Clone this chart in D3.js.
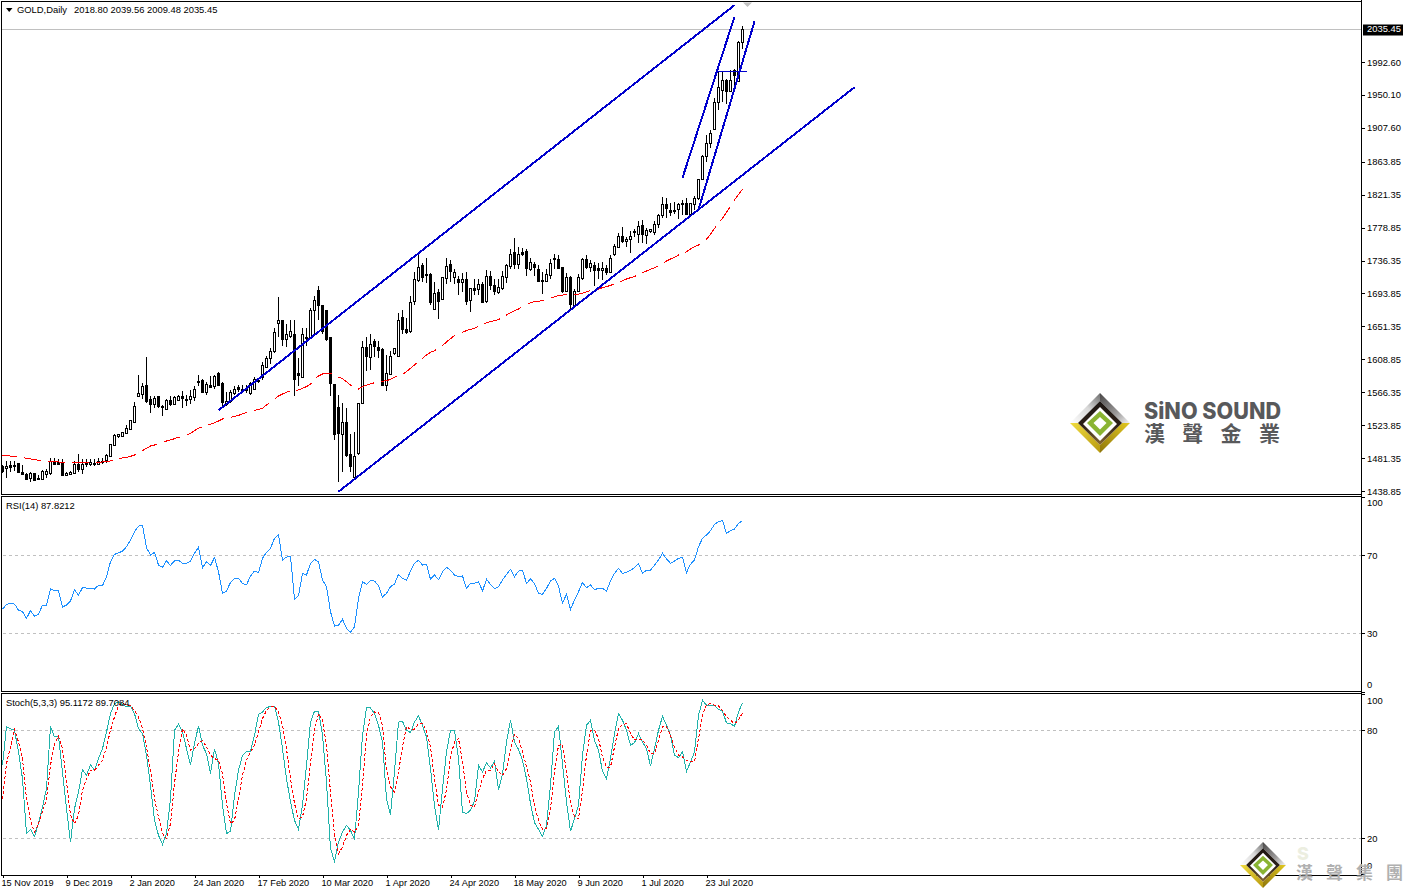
<!DOCTYPE html>
<html lang="en">
<head>
  <meta charset="UTF-8">
  <title>GOLD Daily</title>
  <script src="https://d3js.org/d3.v7.min.js"></script>
  <style>
    html, body { margin: 0; padding: 0; background: #fff; }
    svg { display: block; }
    text { font-family: 'Liberation Sans', Arial, sans-serif; font-size: 9.4px; fill: #000; }
    .tick line { stroke: #000; shape-rendering: crispEdges; }
    .tick text { font-family: 'Liberation Sans', Arial, sans-serif; font-size: 9.4px; }
    .date-axis .tick text { font-size: 9.2px; }
    .aliased { shape-rendering: crispEdges; }
  </style>
</head>
<body>
  <svg id="chart" width="1405" height="892"></svg>
  <script>
    // tick labels
    const dates = ["15 Nov 2019","9 Dec 2019","2 Jan 2020","24 Jan 2020","17 Feb 2020","10 Mar 2020","1 Apr 2020","24 Apr 2020","18 May 2020","9 Jun 2020","1 Jul 2020","23 Jul 2020"];
    const dateBars = [0,16,32,48,64,80,96,112,128,144,160,176];
    const priceTicks = [1992.60,1950.10,1907.60,1863.85,1821.35,1778.85,1736.35,1693.85,1651.35,1608.85,1566.35,1523.85,1481.35,1438.85];
    const rsiTicks = [100,70,30,0];
    const rsiLevels = [70,30];
    const stochTicks = [100,80,20,0];
    const stochLevels = [80,20];
    const lastClose = 2035.45;

    // daily candles
    const opens = [
      1471,1468,1472,1471,1475,1464,1461,1455,1462,1456,
      1455,1461,1461,1476,1476,1475,1459,1461,1463,1474,
      1467,1474,1474,1475,1474,1477,1478,1484,1498,1510,
      1510,1514,1518,1528,1561,1564,1576,1557,1551,1561,
      1549,1545,1556,1551,1556,1561,1557,1558,1561,1581,
      1582,1567,1576,1574,1591,1578,1551,1554,1566,1573,
      1570,1571,1565,1570,1581,1586,1600,1610,1619,1656,
      1660,1635,1638,1642,1591,1586,1638,1638,1672,1698,
      1679,1672,1637,1577,1547,1512,1528,1486,1457,1488,
      1553,1625,1612,1632,1625,1622,1575,1590,1616,1614,
      1663,1648,1646,1685,1711,1731,1719,1719,1674,1696,
      1686,1713,1732,1715,1712,1708,1713,1685,1701,1700,
      1706,1684,1716,1705,1696,1700,1716,1729,1747,1732,
      1747,1748,1726,1732,1726,1711,1710,1718,1738,1738,
      1728,1697,1715,1678,1697,1713,1738,1728,1731,1727,
      1725,1727,1722,1745,1754,1768,1761,1764,1773,1771,
      1782,1769,1774,1774,1783,1795,1809,1802,1801,1802,
      1809,1810,1796,1809,1817,1841,1871,1888,1906,1941,
      1957,1970,1956,1982,1969,2018.80];
    const highs = [
      1472,1477,1477,1478,1475,1472,1462,1463,1462,1459,
      1466,1467,1482,1481,1480,1480,1464,1465,1478,1487,
      1480,1480,1480,1480,1481,1481,1487,1500,1512,1513,
      1515,1524,1531,1554,1589,1578,1612,1561,1561,1561,
      1550,1557,1561,1561,1563,1568,1563,1569,1574,1589,
      1583,1580,1587,1589,1593,1580,1567,1569,1574,1576,
      1576,1576,1580,1586,1584,1606,1613,1624,1649,1689,
      1660,1655,1660,1660,1610,1649,1649,1675,1690,1703,
      1679,1672,1638,1577,1563,1553,1546,1513,1515,1553,
      1632,1637,1642,1635,1632,1623,1614,1620,1623,1669,
      1672,1662,1691,1722,1746,1733,1739,1720,1708,1699,
      1715,1739,1737,1726,1716,1720,1721,1701,1712,1712,
      1709,1724,1723,1712,1712,1723,1732,1751,1765,1754,
      1753,1751,1739,1735,1731,1722,1726,1738,1745,1744,
      1728,1720,1716,1699,1719,1739,1743,1737,1734,1733,
      1734,1731,1743,1758,1772,1779,1767,1774,1777,1787,
      1789,1778,1777,1787,1797,1818,1817,1811,1812,1811,
      1814,1817,1811,1820,1842,1873,1898,1905,1946,1980,
      1980,1971,1982,1984,2020,2039.56];
    const lows = [
      1462,1456,1464,1465,1462,1462,1453,1450,1452,1453,
      1453,1455,1460,1472,1472,1458,1458,1460,1463,1464,
      1461,1470,1471,1471,1472,1474,1475,1483,1497,1507,
      1508,1513,1517,1527,1560,1558,1553,1540,1546,1546,
      1536,1544,1548,1550,1555,1546,1548,1551,1555,1574,
      1565,1563,1573,1571,1574,1549,1548,1552,1563,1566,
      1565,1565,1563,1569,1578,1582,1599,1603,1617,1638,
      1626,1625,1636,1562,1574,1586,1626,1637,1642,1660,
      1642,1633,1561,1505,1451,1464,1483,1464,1454,1485,
      1553,1594,1595,1612,1610,1574,1568,1589,1614,1612,
      1642,1642,1643,1679,1708,1708,1707,1679,1672,1661,
      1685,1706,1709,1706,1692,1696,1679,1670,1692,1692,
      1681,1682,1698,1692,1693,1698,1707,1726,1726,1725,
      1742,1716,1723,1716,1708,1693,1709,1712,1726,1725,
      1695,1696,1673,1676,1696,1711,1726,1721,1703,1713,
      1711,1718,1720,1742,1753,1759,1754,1746,1767,1759,
      1759,1758,1772,1769,1778,1791,1791,1794,1797,1790,
      1795,1795,1795,1802,1814,1840,1863,1881,1905,1931,
      1941,1938,1954,1962,1967,2009.48];
    const closes = [
      1464,1471,1470,1472,1464,1462,1455,1462,1453,1456,
      1465,1465,1477,1474,1474,1460,1462,1464,1474,1468,
      1474,1475,1476,1475,1478,1478,1485,1500,1511,1512,
      1515,1520,1530,1549,1565,1574,1555,1551,1559,1548,
      1548,1556,1551,1560,1561,1558,1557,1562,1571,1580,
      1567,1577,1574,1587,1576,1553,1555,1566,1571,1571,
      1571,1570,1578,1583,1582,1602,1611,1619,1644,1660,
      1635,1641,1645,1584,1589,1641,1637,1673,1685,1679,
      1646,1634,1577,1513,1513,1528,1485,1471,1484,1553,
      1625,1614,1629,1625,1621,1576,1591,1613,1623,1660,
      1647,1644,1683,1713,1728,1716,1718,1683,1695,1685,
      1715,1729,1723,1722,1708,1712,1685,1701,1699,1706,
      1683,1716,1705,1697,1702,1716,1731,1745,1732,1745,
      1745,1726,1735,1728,1710,1710,1719,1733,1739,1726,
      1697,1715,1680,1697,1715,1738,1728,1733,1725,1725,
      1727,1722,1740,1755,1768,1761,1764,1768,1774,1781,
      1770,1776,1777,1784,1795,1809,1804,1799,1802,1809,
      1810,1796,1810,1817,1841,1871,1888,1901,1941,1960,
      1970,1956,1970,1976,2019,2035.45];

    // moving average (red dashes)
    const maValues = [
      1485.3,1484.9,1484,1483.6,1482.3,1481.9,1481,1480.2,1479.3,1478.5,
      1477.6,1477.2,1476.7,1476.3,1476.3,1475.9,1475.5,1475,1475,1475,
      1475,1475,1475,1475.5,1475.9,1476.3,1476.7,1477.6,1478.9,1480.6,
      1481.5,1482.3,1483.6,1485.3,1487.5,1491,1494,1497,1498.2,1500,
      1502,1503.4,1504.7,1506.4,1508.2,1509.4,1511.2,1512.9,1516.8,1519.8,
      1521.5,1523.2,1525,1527,1529.2,1531.8,1532.2,1534,1535.3,1536.5,
      1538.3,1540.4,1541.7,1543,1544.3,1545.6,1549.9,1552.9,1557.2,1561.5,
      1564.1,1566.2,1568.4,1568.8,1569.3,1571.4,1573.6,1576.6,1583,1587.3,
      1589.9,1590.8,1590.8,1588.6,1585.6,1583.9,1580,1575.7,1571.4,1570.5,
      1573.6,1575.3,1577,1578.7,1580.5,1580.5,1581.3,1583,1585.6,1587.8,
      1589.5,1592.9,1597.2,1601.5,1605.8,1610.1,1614.4,1617.9,1620,1623,
      1626.5,1631.2,1635.5,1639.4,1641.6,1643.7,1645.9,1647.6,1648.9,1651.9,
      1654,1655.8,1657.5,1658.8,1660.1,1663.1,1666.1,1669.1,1671.7,1673.8,
      1676.8,1679.4,1682,1683.3,1683.7,1684.6,1685.4,1687.6,1689.7,1691,
      1691.8,1692.3,1692.3,1692.7,1693.1,1694,1696.1,1697.4,1698.3,1699.6,
      1701.3,1702.6,1704.3,1706,1707.8,1710.3,1712.5,1714.2,1715.5,1718.5,
      1720.7,1722.8,1725,1727.1,1729.3,1731.4,1735.7,1738.3,1740.5,1743.5,
      1745.6,1747.8,1751.2,1754.2,1756.4,1759.4,1763.7,1770.2,1777.9,1784.4,
      1790.8,1798.6,1806.7,1814.5,1821.8,1828.3];

    const rsiValues = [
      42.3,44.8,45.5,45,41.9,41.1,37.7,41.6,38.7,39.7,
      44.5,44.5,52.7,51.9,51.9,43.5,44.5,46.6,52.4,49.6,
      53.4,53.2,52.9,52.7,54.6,54.4,59,66.7,70.5,71.2,
      72.2,74.4,77.8,82.1,85,85.5,73.9,70.1,71.5,65,
      63.8,67.2,64.8,67.2,67.4,65.9,65.9,67.1,71,74.1,
      63.6,66.7,64.7,68.8,61.6,50.5,51.7,56.1,58.2,58.2,
      55.6,54.8,59.4,61.9,61.1,68.4,71.5,73.6,78.7,80.4,
      67.6,69.1,69.6,47.4,49.3,60.6,59.9,65.9,67.9,66.7,
      57.3,53.9,41.1,33.7,34.1,37.2,32.5,30.5,33.4,47.9,
      56.5,55.1,57.2,56.8,54.4,
      48.6,50.5,53.9,55.3,60.2,58.2,57.2,61.9,65.9,67.4,
      65,65.4,57.7,59.9,57.5,61.6,63.8,62.4,59.9,59,
      59.4,53,55.6,55.6,56.5,51.7,57.7,55.1,52.9,53.9,
      57.3,60.2,62.8,59,61.9,62.3,55.6,57.8,55.6,50.5,
      50,53,56.8,58.2,54.2,45.4,50,42.3,47.1,51.3,
      56.1,53.4,54.8,52.4,53,53,51.7,56.8,60.7,63.3,
      60.7,61.2,62.4,63.6,65.9,60.7,62.3,62.3,65,67.6,
      71,68.1,65.9,67.1,68.4,68.9,61.2,65.4,67.6,74.4,
      78.7,80.4,82.6,85.9,87.2,87.9,81.2,82.6,83.5,86.4,
      87.82];

    const stochK = [
      60.6,82,80.9,80,68,53.1,22.6,25,21.1,28.1,
      37.4,47.6,82.2,76.3,76.3,56.9,36.5,18,36.5,45.7,
      58.2,55,60.9,57.8,64.3,69.8,79.1,89.3,94.8,95.7,
      94.3,93,93.3,89.3,80.9,78.2,66.1,49.4,30,21.7,
      16.7,22.6,42,80,83.3,79.4,69.8,60.9,72.6,82.4,
      71.7,67,55.9,69.8,61.5,38.3,22.6,23.9,43.9,57.8,
      66.1,68.3,68.3,77.2,88.9,90.2,92.6,93.3,93.3,84.6,
      69.8,53.1,40.2,30,25,38.3,60.6,84.6,90.6,90.6,
      77.2,51.3,14.3,7.2,18,23.5,27.2,24.4,19.4,45.7,
      77.2,92.4,92.4,89.3,82.8,
      73.5,42,33.2,56.9,84.6,85,80,78.7,84.6,88,
      82.8,76.3,58.7,38.3,24.4,47.6,68,80,80,64.3,
      34.6,33.7,35.6,40.6,60.6,56.9,62,59.1,62.8,47,
      55.9,73.5,85.6,73.5,69.4,63.3,53.1,39.3,28.7,25,
      21.1,27.2,49.4,79.1,82.2,61.5,40.2,23.9,30.9,38.3,
      66.1,82.8,85.6,74.4,68.9,57.2,53.1,64.3,78.2,89.3,
      85.6,80,71.7,73.1,78.2,73.5,69.8,60.2,69.8,80,
      87.8,82.8,77.2,66.1,64.8,68,57.2,62.4,68,88.3,
      96.7,93.9,93.9,93.9,91.7,90.6,84.1,83.7,82.2,90.2,
      95.12];

    const stochD = [
      42,61.5,70.7,80.6,73.5,64.3,42,30,23.5,28.1,
      34.6,42,60.6,72.6,76.7,69.8,51.3,32.8,28.1,32.8,
      46.7,53.1,57.8,57.8,60.6,63.3,70.7,80,87.4,93.9,
      94.8,94.3,93.5,91.1,87.4,80.9,70.7,57.8,42,31.9,
      22.6,19.8,28.1,50.4,68,80.9,77.2,68.9,69.8,72.6,
      74.4,70.7,66.1,64.3,63.3,55.9,39.3,28.1,30,42,
      55,63.3,68,71.7,79.1,86.5,91.1,93,93.3,90.2,
      82.8,69.8,53.1,39.3,30.9,31.9,42,61.5,80,89.3,
      85.6,71.7,45.7,21.7,11.5,15.2,21.7,25,23.5,27.2,
      49.4,77.2,87.4,90.2,89.8,
      82.8,57.8,48.5,45.7,56.9,70.7,81.9,80.6,80.6,83.7,
      83.7,80,70.7,53.1,38.3,37.4,46.7,65.2,73.5,75.4,
      62.4,45.7,38.3,37.4,45.7,53.1,57.8,57.8,61.5,56.9,
      55,58.7,69.8,77.6,75.4,68,59.6,51.3,38.3,30,
      25,25.4,36.5,56.9,71.7,72,56.9,39.3,31.9,30.9,
      46.7,66.1,80,80,75.4,65.2,59.6,59.6,70.7,80.9,
      83.2,83.7,78.2,74.8,74.8,74.8,71.7,67,67,74.4,
      81.9,81.9,77.2,70.7,66.1,65.2,63.3,62.4,62.4,75.4,
      88.3,94.3,94.8,93.9,93.5,91.1,87.4,85.6,83.7,85.6,
      89.71];

    // drawn trend lines: bar, price, bar, price
    const trendLines = [
      [54, 1543, 183, 2066],
      [84, 1438, 213, 1960],
      [170, 1843, 183, 2051],
      [174, 1802, 188, 2045],
      [178.6, 1980, 186, 1980]
    ];

    const svg = d3.select("#chart");

    // one bar is 4px wide, the plot runs out to the price scale
    const x = d3.scaleLinear().domain([0, 340]).range([2.5, 1362.5]);
    const yMain = d3.scaleLinear().domain([1438.85, 1992.60]).range([491, 62]);
    const yRsi = d3.scaleLinear().domain([0, 100]).range([691.8, 496.8]);
    const yStoch = d3.scaleLinear().domain([0, 100]).range([874.3, 694.3]);
    const bars = d3.range(closes.length);

    // panel frames
    const frames = [[1, 1, 493], [1, 496, 195], [1, 693, 181.5]];
    svg.selectAll("rect.frame").data(frames).join("rect")
      .attr("class", "frame aliased")
      .attr("x", 1.5).attr("y", d => d[1] + 0.5)
      .attr("width", 1360).attr("height", d => d[2])
      .attr("fill", "none").attr("stroke", "#000");

    // last price line
    svg.append("line").attr("class", "aliased")
      .attr("x1", 2).attr("x2", 1361)
      .attr("y1", Math.round(yMain(lastClose)) + 0.5).attr("y2", Math.round(yMain(lastClose)) + 0.5)
      .attr("stroke", "#c0c0c0");

    // wicks and bodies
    const candles = svg.append("g").attr("class", "aliased");
    candles.selectAll("line").data(bars).join("line")
      .attr("x1", i => x(i)).attr("x2", i => x(i))
      .attr("y1", i => yMain(highs[i])).attr("y2", i => yMain(lows[i]))
      .attr("stroke", "#000");
    candles.selectAll("rect").data(bars).join("rect")
      .attr("x", i => x(i) - 1).attr("width", 2)
      .attr("y", i => Math.round(yMain(Math.max(opens[i], closes[i]))) + 0.5)
      .attr("height", i => Math.max(1, Math.round(Math.abs(yMain(opens[i]) - yMain(closes[i])))))
      .attr("fill", i => closes[i] >= opens[i] ? "#fff" : "#000")
      .attr("stroke", "#000");

    // moving average
    const maLine = d3.line().x((d, i) => x(i)).y(d => yMain(d));
    svg.append("path").datum(maValues).attr("class", "aliased")
      .attr("d", maLine).attr("fill", "none")
      .attr("stroke", "#ff0000").attr("stroke-dasharray", "17 7").attr("stroke-dashoffset", 2);

    // trend lines, the flat one is thinner
    svg.selectAll("line.trend").data(trendLines).join("line")
      .attr("class", "trend aliased")
      .attr("x1", d => x(d[0])).attr("y1", d => yMain(d[1]))
      .attr("x2", d => x(d[2])).attr("y2", d => yMain(d[3]))
      .attr("stroke", "#0000cd").attr("stroke-width", d => d[1] === d[3] ? 1 : 2);

    // shift marker at the top
    svg.append("path").attr("d", d3.line()([[743, 2.5], [752, 2.5], [747.5, 7]]))
      .attr("fill", "#c0c0c0");

    // RSI panel
    svg.selectAll("line.rsi-level").data(rsiLevels).join("line")
      .attr("class", "rsi-level aliased")
      .attr("x1", 3).attr("x2", 1361)
      .attr("y1", d => Math.round(yRsi(d)) + 0.5).attr("y2", d => Math.round(yRsi(d)) + 0.5)
      .attr("stroke", "#c0c0c0").attr("stroke-dasharray", "3 3");
    svg.append("path").datum(rsiValues).attr("class", "aliased")
      .attr("d", d3.line().x((d, i) => x(i)).y(d => yRsi(d)))
      .attr("fill", "none").attr("stroke", "#1e90ff");

    // stochastic panel
    svg.selectAll("line.stoch-level").data(stochLevels).join("line")
      .attr("class", "stoch-level aliased")
      .attr("x1", 3).attr("x2", 1361)
      .attr("y1", d => Math.round(yStoch(d)) + 0.5).attr("y2", d => Math.round(yStoch(d)) + 0.5)
      .attr("stroke", "#c0c0c0").attr("stroke-dasharray", "3 3");
    const stochLine = d3.line().x((d, i) => x(i)).y(d => yStoch(d));
    svg.append("path").datum(stochK).attr("class", "aliased")
      .attr("d", stochLine).attr("fill", "none").attr("stroke", "#20b2aa");
    svg.append("path").datum(stochD).attr("class", "aliased")
      .attr("d", stochLine).attr("fill", "none")
      .attr("stroke", "#ff0000").attr("stroke-dasharray", "3 2");

    // axes
    function rightAxis(scale, ticks, format) {
      const g = svg.append("g").attr("transform", "translate(1362,0)")
        .call(d3.axisRight(scale).tickValues(ticks).tickSize(3).tickPadding(2).tickFormat(format));
      g.select(".domain").remove();
      return g;
    }
    rightAxis(yMain, priceTicks, d3.format(".2f"));
    // MT4 pulls the end labels inside the panel
    rightAxis(yRsi, rsiTicks, d3.format("d")).selectAll("text")
      .attr("y", d => d === 100 ? 6 : d === 0 ? -7 : 0);
    rightAxis(yStoch, stochTicks, d3.format("d")).selectAll("text")
      .attr("y", d => d === 100 ? 6 : d === 0 ? -9 : 0);

    svg.append("line").attr("class", "aliased")
      .attr("x1", 1361.5).attr("x2", 1361.5).attr("y1", 0).attr("y2", 875).attr("stroke", "#000");

    const xAxis = svg.append("g").attr("class", "date-axis").attr("transform", "translate(0,875)")
      .call(d3.axisBottom(x).tickValues(dateBars).tickSize(3).tickPadding(1)
        .tickFormat((d, i) => dates[i]));
    xAxis.select(".domain").remove();
    xAxis.selectAll("text").attr("text-anchor", "start").attr("x", -1.5);

    // last price tag
    svg.append("rect").attr("x", 1363).attr("y", 24.5).attr("width", 40).attr("height", 11).attr("fill", "#000");
    svg.append("text").attr("x", 1367).attr("y", yMain(lastClose) + 3.5).style("fill", "#fff")
      .text(d3.format(".2f")(lastClose));

    // header and indicator captions
    svg.append("path").attr("d", d3.line()([[6, 8], [12.5, 8], [9.2, 12]])).attr("fill", "#000");
    svg.append("text").attr("x", 17).attr("y", 12.5).text("GOLD,Daily");
    svg.append("text").attr("x", 74).attr("y", 12.5).text("2018.80 2039.56 2009.48 2035.45");
    svg.append("text").attr("x", 6).attr("y", 509).text("RSI(14) 87.8212");
    svg.append("text").attr("x", 6).attr("y", 706).text("Stoch(5,3,3) 95.1172 89.7084");

    // company logos
    const defs = svg.append("defs");
    const grad = (id, x1, y1, x2, y2, stops) => {
      const g = defs.append("linearGradient").attr("id", id)
        .attr("x1", x1).attr("y1", y1).attr("x2", x2).attr("y2", y2);
      stops.forEach(s => g.append("stop").attr("offset", s[0]).attr("stop-color", s[1]));
    };
    grad("silverL", 0, 1, 1, 0, [[0, "#ffffff"], [0.55, "#d8d8d8"], [1, "#6e6e6e"]]);
    grad("silverR", 0, 0, 1, 1, [[0, "#4a4848"], [0.6, "#9a9898"], [1, "#f4f4f4"]]);
    grad("goldL", 0, 0, 1, 1, [[0, "#f0dc40"], [1, "#b89a10"]]);
    grad("goldR", 1, 0, 0, 1, [[0, "#e2c820"], [1, "#8f760c"]]);
    grad("brown", 0, 0, 0, 1, [[0, "#1c1512"], [0.55, "#2c2018"], [1, "#8a6a30"]]);

    function logo(cx, cy, r) {
      const g = svg.append("g").attr("transform", `translate(${cx},${cy}) scale(${r / 30})`);
      const poly = (pts, fill) => g.append("polygon").attr("points", pts).attr("fill", fill);
      poly("-30,0 0,-30 0,-22 -22,0", "url(#silverL)");
      poly("0,-30 30,0 22,0 0,-22", "url(#silverR)");
      poly("-30,0 -22,0 0,22 0,30", "url(#goldL)");
      poly("30,0 22,0 0,22 0,30", "url(#goldR)");
      poly("0,-22 22,0 0,22 -22,0", "url(#brown)");
      poly("0,-16 17,1 0,18 -17,1", "#ffffff");
      poly("0,-12 13,0 0,13 -13,0", "#8ab432");
      poly("0,-6 6.5,0 0,6.5 -6.5,0", "#ffffff");
    }
    logo(1100, 423, 30);
    logo(1263, 865, 23);

    svg.append("text").attr("x", 1144).attr("y", 418.5)
      .attr("textLength", 137).attr("lengthAdjust", "spacingAndGlyphs")
      .style("font-family", "Inter, Roboto, sans-serif")
      .style("font-size", "22.5px").style("font-weight", 800).style("fill", "#58595b")
      .text("SiNO SOUND");
    ["漢", "聲", "金", "業"].forEach((t, i) => {
      svg.append("text").attr("x", 1144 + 38.3 * i).attr("y", 441)
        .style("font-family", "'Noto Sans CJK TC', sans-serif")
        .style("font-size", "21px").style("font-weight", 700).style("fill", "#58595b")
        .text(t);
    });
    svg.append("text").attr("x", 1297).attr("y", 860)
      .style("font-family", "Inter, Roboto, sans-serif")
      .style("font-size", "18px").style("font-weight", 800).style("fill", "#eceee0")
      .text("S");
    ["漢", "聲", "集", "團"].forEach((t, i) => {
      svg.append("text").attr("x", 1296 + 30 * i).attr("y", 879)
        .style("font-family", "'Noto Sans CJK TC', sans-serif")
        .style("font-size", "17px").style("font-weight", 700).style("fill", "#b0b0b0")
        .text(t);
    });
  </script>
</body>
</html>
